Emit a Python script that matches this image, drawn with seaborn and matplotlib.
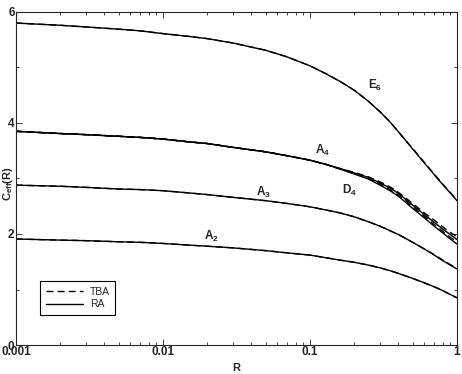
import seaborn as sns
import matplotlib.pyplot as plt
import pandas as pd
from matplotlib.ticker import FixedLocator, LogLocator, NullFormatter

# sample points along R (log axis)
R = [0.001, 0.002, 0.003, 0.005, 0.007, 0.01, 0.015, 0.02, 0.03, 0.05, 0.07, 0.1,
     0.13, 0.16, 0.2, 0.25, 0.3, 0.35, 0.4, 0.5, 0.6, 0.7, 0.8, 0.9, 1.0]

# RA curves
E6_RA = [5.80, 5.76, 5.73, 5.69, 5.66, 5.61, 5.56, 5.52, 5.44, 5.31, 5.19, 5.03,
         4.88, 4.75, 4.59, 4.39, 4.20, 4.02, 3.84, 3.53, 3.28, 3.07, 2.89, 2.74, 2.60]
A4_RA = [3.85, 3.81, 3.79, 3.76, 3.74, 3.71, 3.66, 3.63, 3.56, 3.48, 3.41, 3.33,
         3.25, 3.18, 3.10, 3.02, 2.92, 2.83, 2.73, 2.52, 2.35, 2.21, 2.09, 1.99, 1.90]
D4_RA = [3.85, 3.81, 3.79, 3.76, 3.74, 3.71, 3.66, 3.63, 3.56, 3.48, 3.41, 3.33,
         3.25, 3.17, 3.08, 2.99, 2.88, 2.78, 2.68, 2.46, 2.29, 2.14, 2.02, 1.91, 1.82]
A3_RA = [2.88, 2.86, 2.84, 2.81, 2.80, 2.78, 2.74, 2.71, 2.66, 2.60, 2.55, 2.49,
         2.43, 2.38, 2.31, 2.22, 2.14, 2.06, 1.99, 1.85, 1.73, 1.62, 1.52, 1.44, 1.37]
A2_RA = [1.91, 1.89, 1.88, 1.86, 1.85, 1.83, 1.80, 1.78, 1.75, 1.70, 1.66, 1.62,
         1.57, 1.53, 1.49, 1.44, 1.39, 1.34, 1.29, 1.20, 1.12, 1.05, 0.98, 0.91, 0.85]

# TBA curves (almost on top of RA)
E6_TBA = [5.80, 5.76, 5.73, 5.69, 5.66, 5.61, 5.56, 5.52, 5.44, 5.31, 5.19, 5.03,
          4.88, 4.75, 4.59, 4.39, 4.20, 4.02, 3.84, 3.54, 3.29, 3.08, 2.90, 2.75, 2.61]
A4_TBA = [3.85, 3.81, 3.79, 3.76, 3.74, 3.71, 3.66, 3.63, 3.56, 3.48, 3.41, 3.33,
          3.25, 3.18, 3.11, 3.03, 2.94, 2.85, 2.75, 2.55, 2.38, 2.25, 2.13, 2.03, 1.95]
D4_TBA = [3.85, 3.81, 3.79, 3.76, 3.74, 3.71, 3.66, 3.63, 3.56, 3.48, 3.41, 3.33,
          3.25, 3.17, 3.09, 3.00, 2.90, 2.80, 2.70, 2.49, 2.32, 2.17, 2.05, 1.94, 1.86]
A3_TBA = [2.88, 2.86, 2.84, 2.81, 2.80, 2.78, 2.74, 2.71, 2.66, 2.60, 2.55, 2.49,
          2.43, 2.38, 2.31, 2.22, 2.14, 2.06, 1.99, 1.85, 1.73, 1.63, 1.53, 1.45, 1.38]
A2_TBA = [1.91, 1.89, 1.88, 1.86, 1.85, 1.83, 1.80, 1.78, 1.75, 1.70, 1.66, 1.62,
          1.57, 1.53, 1.49, 1.44, 1.39, 1.34, 1.29, 1.20, 1.12, 1.05, 0.98, 0.91, 0.85]


def getData():
    curves = {
        ("E6", "RA"): E6_RA, ("A4", "RA"): A4_RA, ("D4", "RA"): D4_RA,
        ("A3", "RA"): A3_RA, ("A2", "RA"): A2_RA,
        ("E6", "TBA"): E6_TBA, ("A4", "TBA"): A4_TBA, ("D4", "TBA"): D4_TBA,
        ("A3", "TBA"): A3_TBA, ("A2", "TBA"): A2_TBA,
    }
    rows = {"R": [], "C": [], "group": [], "method": []}
    for (g, m), vals in curves.items():
        for r, c in zip(R, vals):
            rows["R"].append(r)
            rows["C"].append(c)
            rows["group"].append(g + m)
            rows["method"].append(m)
    return pd.DataFrame(rows)


sns.set_theme(style='ticks')
plt.rcParams['font.family'] = ['Liberation Sans', 'DejaVu Sans']
plt.rcParams['mathtext.fontset'] = 'custom'
plt.rcParams['mathtext.rm'] = 'Liberation Sans'
plt.rcParams['mathtext.bf'] = 'Liberation Sans:bold'
plt.rcParams['mathtext.it'] = 'Liberation Sans:italic'

fig = plt.figure(figsize=(4.62, 3.74), dpi=100)
ax = fig.add_axes([0.0346, 0.0775, 0.9545, 0.8905])

df = getData()
sns.lineplot(data=df, x="R", y="C", style="method", units="group", estimator=None,
             style_order=["TBA", "RA"], dashes={"TBA": (5, 3), "RA": ""},
             color="black", linewidth=1.0, ax=ax, legend=True)

ax.set_xscale('log')
ax.set_xlim(0.001, 1)
ax.set_ylim(0, 6)
ax.set_xlabel('R', fontsize=8, fontweight='bold', labelpad=3)
ax.set_ylabel('')
fig.text(8 / 462, 0.51, r'$\mathbf{C_{eff}(R)}$', fontsize=8, rotation=90,
         ha='center', va='center')

ax.set_xticks([0.001, 0.01, 0.1, 1])
ax.set_xticklabels(['0.001', '0.01', '0.1', '1'])
ax.xaxis.set_minor_locator(LogLocator(base=10, subs=range(2, 10)))
ax.xaxis.set_minor_formatter(NullFormatter())
ax.set_yticks([0, 2, 4, 6])
ax.set_yticklabels(['0', '2', '4', '6'])
ax.yaxis.set_minor_locator(FixedLocator([1, 3, 5]))

for spine in ax.spines.values():
    spine.set_linewidth(0.8)
    spine.set_visible(True)
ax.tick_params(which='both', direction='in', top=True, right=True, width=0.6)
ax.tick_params(which='major', length=4, pad=1, labelsize=8.5)
ax.tick_params(which='minor', length=2)
for lab in ax.get_xticklabels() + ax.get_yticklabels():
    lab.set_fontweight('bold')

# curve labels
ax.text(0.277, 4.68, r'$\mathbf{E_6}$', fontsize=8.5, ha='center', va='center')
ax.text(0.121, 3.51, r'$\mathbf{A_4}$', fontsize=8.5, ha='center', va='center')
ax.text(0.187, 2.79, r'$\mathbf{D_4}$', fontsize=8.5, ha='center', va='center')
ax.text(0.0479, 2.74, r'$\mathbf{A_3}$', fontsize=8.5, ha='center', va='center')
ax.text(0.0215, 1.95, r'$\mathbf{A_2}$', fontsize=8.5, ha='center', va='center')

handles, labels = ax.get_legend_handles_labels()
leg = ax.legend(handles, labels, loc='lower left', bbox_to_anchor=(0.055, 0.09),
                frameon=True, fancybox=False, framealpha=1, edgecolor='black',
                fontsize=7.5, handlelength=3.6, labelspacing=0.25, handletextpad=0.6,
                borderpad=0.55, borderaxespad=0)
leg.get_frame().set_linewidth(0.8)

fig.savefig('out.png', dpi=100)
